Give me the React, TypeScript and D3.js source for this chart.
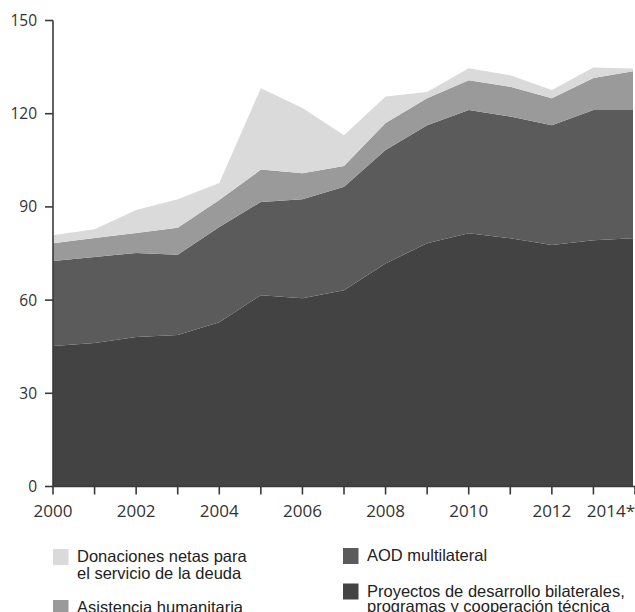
import * as React from 'react';
import * as d3 from 'd3';

const years = [2000, 2001, 2002, 2003, 2004, 2005, 2006, 2007, 2008, 2009, 2010, 2011, 2012, 2013, 2014];
const bilateral = [45.2, 46.2, 48.1, 48.8, 52.9, 61.6, 60.6, 63.2, 71.8, 78.3, 81.5, 79.9, 77.7, 79.3, 79.9];
const multilateral = [27.4, 27.7, 27.1, 25.8, 30.6, 30.0, 31.9, 33.3, 36.5, 38.0, 39.7, 39.2, 38.6, 41.9, 41.3];
const humanitarian = [5.7, 6.1, 6.4, 8.7, 8.7, 10.4, 8.3, 6.7, 8.7, 8.7, 9.6, 9.6, 8.7, 10.3, 12.6];
const debtRelief = [2.6, 2.8, 7.4, 9.2, 5.5, 26.2, 21.0, 9.9, 8.5, 2.0, 3.8, 3.7, 2.6, 3.4, 0.7];

const yTicks = [0, 30, 60, 90, 120, 150];
const xLabels = ['2000', '2002', '2004', '2006', '2008', '2010', '2012', '2014*'];
const xLabelYears = [2000, 2002, 2004, 2006, 2008, 2010, 2012, 2014];

const seriesKeys = ['bilateral', 'multilateral', 'humanitarian', 'debt'];
const colors: Record<string, string> = {
  bilateral: '#434343',
  multilateral: '#5b5b5b',
  humanitarian: '#9a9a9a',
  debt: '#dadada',
};

const legendLeft = [
  { key: 'debt', lines: ['Donaciones netas para', 'el servicio de la deuda'] },
  { key: 'humanitarian', lines: ['Asistencia humanitaria'] },
];
const legendRight = [
  { key: 'multilateral', lines: ['AOD multilateral'] },
  { key: 'bilateral', lines: ['Proyectos de desarrollo bilaterales,', 'programas y cooperación técnica'] },
];

export default function App() {
  const width = 635;
  const height = 612;
  const margin = { top: 20.5, left: 53, bottom: 486.5 };

  const table = years.map((yr, i) => ({
    year: yr,
    bilateral: bilateral[i],
    multilateral: multilateral[i],
    humanitarian: humanitarian[i],
    debt: debtRelief[i],
  }));

  const x = d3.scaleLinear().domain([2000, 2014]).range([margin.left, 635]);
  const y = d3.scaleLinear().domain([0, 150]).range([margin.bottom, margin.top]);

  const stacked = d3.stack<any>().keys(seriesKeys)(table);
  const area = d3
    .area<any>()
    .x((d) => x(d.data.year))
    .y0((d) => y(d[0]))
    .y1((d) => y(d[1]));

  const axisColor = '#3a3a3a';
  const tickFont = "'Open Sans', sans-serif";
  const legendFont = "'Liberation Sans', Arial, sans-serif";

  return (
    <svg
      width={width}
      height={height}
      style={{ position: 'absolute', left: 0, top: 0, background: '#fff' }}
    >
      <defs>
        <clipPath id="plot">
          <rect x={margin.left} y={0} width={633 - margin.left} height={margin.bottom} />
        </clipPath>
      </defs>
      <g clipPath="url(#plot)">
        {stacked.map((s) => (
          <path key={s.key} d={area(s) || ''} fill={colors[s.key]} />
        ))}
      </g>

      {/* y axis */}
      <line x1={margin.left} x2={margin.left} y1={y(150)} y2={y(0)} stroke={axisColor} strokeWidth={1.6} />
      {yTicks.map((t) => (
        <g key={t}>
          <line x1={margin.left - 8} x2={margin.left} y1={y(t)} y2={y(t)} stroke={axisColor} strokeWidth={1.6} />
          <text
            x={37}
            y={y(t)}
            dy="0.36em"
            textAnchor="end"
            fontFamily={tickFont}
            fontSize={15.5}
            fill="#333"
          >
            {t}
          </text>
        </g>
      ))}

      {/* x axis */}
      <line x1={margin.left} x2={width} y1={y(0)} y2={y(0)} stroke={axisColor} strokeWidth={1.6} />
      {years.map((yr) => (
        <line key={yr} x1={x(yr)} x2={x(yr)} y1={y(0)} y2={y(0) + 8} stroke={axisColor} strokeWidth={1.6} />
      ))}
      {xLabelYears.map((yr, i) => {
        const last = i === xLabelYears.length - 1;
        return (
          <text
            key={yr}
            x={last ? width : x(yr)}
            y={517}
            textAnchor={last ? 'end' : 'middle'}
            fontFamily={tickFont}
            fontSize={17}
            fill="#333"
          >
            {xLabels[i]}
          </text>
        );
      })}

      {/* legend */}
      {[
        { items: legendLeft, sx: 53, tx: 77, rows: [549, 600], gap: 16.6 },
        { items: legendRight, sx: 343, tx: 367, rows: [548, 583.5], gap: 15 },
      ].map((col, ci) => (
        <g key={ci}>
          {col.items.map((it, ri) => (
            <g key={it.key}>
              <rect x={col.sx} y={col.rows[ri]} width={15.5} height={16} fill={colors[it.key]} />
              {it.lines.map((ln, li) => (
                <text
                  key={li}
                  x={col.tx}
                  y={col.rows[ri] + 13.3 + li * col.gap}
                  fontFamily={legendFont}
                  fontSize={16.5}
                  fill="#222"
                >
                  {ln}
                </text>
              ))}
            </g>
          ))}
        </g>
      ))}
    </svg>
  );
}
